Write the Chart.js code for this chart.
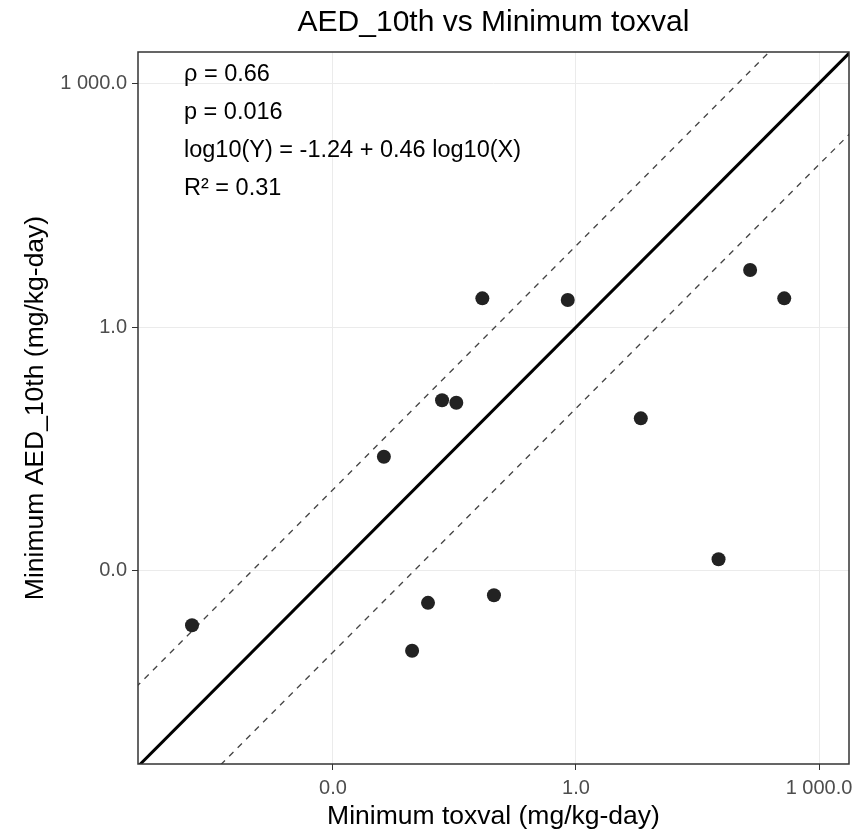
<!DOCTYPE html>
<html>
<head>
<meta charset="utf-8">
<script src="https://cdn.jsdelivr.net/npm/chart.js@4.4.1/dist/chart.umd.min.js"></script>
<style>
  html, body { margin: 0; padding: 0; background: #fff; }
  #wrap { width: 856px; height: 838px; }
</style>
</head>
<body>
<div id="wrap"><canvas id="myChart" width="856" height="838"></canvas></div>
<script>
// data (mg/kg-day)
var toxval = [1.82e-5, 0.00425, 0.0222, 0.0333, 0.0149, 0.0971, 0.00948, 141, 372, 6.31, 57.5, 0.0698, 0.791];
var aed10 = [2.14e-4, 0.0254, 0.126, 0.117, 4.04e-4, 5.01e-4, 1.04e-4, 5.05, 2.26, 0.0753, 0.00139, 2.26, 2.16];

// reference lines: 1:1 and one decade either side
var refX = [1e-7, 1e5];
var oneToOne = [1e-7, 1e5];
var upperDec = [1e-6, 1e6];
var lowerDec = [1e-8, 1e4];

var tickValues = [0.001, 1, 1000];
var tickLabels = ["0.0", "1.0", "1 000.0"];

var statLines = ["\u03c1 = 0.66", "p = 0.016", "log10(Y) = -1.24 + 0.46 log10(X)", "R\u00b2 = 0.31"];

var fontFam = "'Liberation Sans', Arial, sans-serif";

function toPoints(xs, ys) {
    return xs.map(function(x, i) { return { x: x, y: ys[i] }; });
}

// panel border + stats text
var panelPlugin = {
    id: 'panel',
    afterDraw: function(chart) {
        var ctx = chart.ctx;
        var a = chart.chartArea;
        ctx.save();
        ctx.strokeStyle = '#333333';
        ctx.lineWidth = 1.5;
        ctx.strokeRect(a.left, a.top, a.right - a.left, a.bottom - a.top);

        ctx.fillStyle = '#000';
        ctx.font = '23.5px ' + fontFam;
        ctx.textBaseline = 'alphabetic';
        ctx.textAlign = 'left';
        statLines.forEach(function(t, i) {
            ctx.fillText(t, a.left + 46, a.top + 29 + i * 38);
        });
        ctx.restore();
    }
};

function logAxis(min, max, titleText, isY) {
    return {
        type: 'logarithmic',
        min: min,
        max: max,
        bounds: 'data',
        afterBuildTicks: function(scale) {
            scale.ticks = tickValues.map(function(v) { return { value: v }; });
        },
        afterFit: function(scale) {
            if (isY) scale.width = 138;
            else scale.height = 74;
            scale.paddingLeft = 0;
            scale.paddingRight = 0;
            scale.paddingTop = 0;
            scale.paddingBottom = 0;
        },
        ticks: {
            autoSkip: false,
            maxRotation: 0,
            padding: isY ? 5 : 6,
            color: '#4d4d4d',
            font: { family: fontFam, size: 20 },
            callback: function(value, index) { return tickLabels[index]; }
        },
        grid: {
            color: '#ebebeb',
            lineWidth: 1,
            tickColor: '#333333',
            tickLength: 6
        },
        border: { display: false },
        title: {
            display: true,
            text: titleText,
            color: '#000',
            font: { family: fontFam, size: 26.5 },
            padding: isY ? { top: 20, bottom: 0 } : { top: 0, bottom: 5 }
        }
    };
}

var ctx = document.getElementById('myChart').getContext('2d');
var myChart = new Chart(ctx, {
    type: 'scatter',
    data: {
        datasets: [
            {
                label: 'points',
                data: toPoints(toxval, aed10),
                backgroundColor: '#222222',
                borderColor: '#222222',
                pointRadius: 7,
                pointBorderWidth: 0
            },
            {
                label: '1:1',
                data: toPoints(refX, oneToOne),
                showLine: true,
                borderColor: '#000',
                borderWidth: 3,
                pointRadius: 0
            },
            {
                label: 'x10',
                data: toPoints(refX, upperDec),
                showLine: true,
                borderColor: '#444',
                borderWidth: 1.3,
                borderDash: [6, 6],
                pointRadius: 0
            },
            {
                label: '/10',
                data: toPoints(refX, lowerDec),
                showLine: true,
                borderColor: '#444',
                borderWidth: 1.3,
                borderDash: [6, 6],
                pointRadius: 0
            }
        ]
    },
    options: {
        responsive: false,
        animation: false,
        layout: { padding: { left: 0, right: 7, top: 0, bottom: 0 } },
        scales: {
            x: logAxis(3.92e-6, 2344, 'Minimum toxval (mg/kg-day)', false),
            y: logAxis(4.2e-6, 2430, 'Minimum AED_10th (mg/kg-day)', true)
        },
        plugins: {
            legend: { display: false },
            tooltip: { enabled: false },
            title: {
                display: true,
                text: 'AED_10th vs Minimum toxval',
                color: '#000',
                fullSize: false,
                font: { family: fontFam, size: 30, weight: 'normal' },
                padding: { top: 4.5, bottom: 11.5 }
            }
        }
    },
    plugins: [panelPlugin]
});
</script>
</body>
</html>
